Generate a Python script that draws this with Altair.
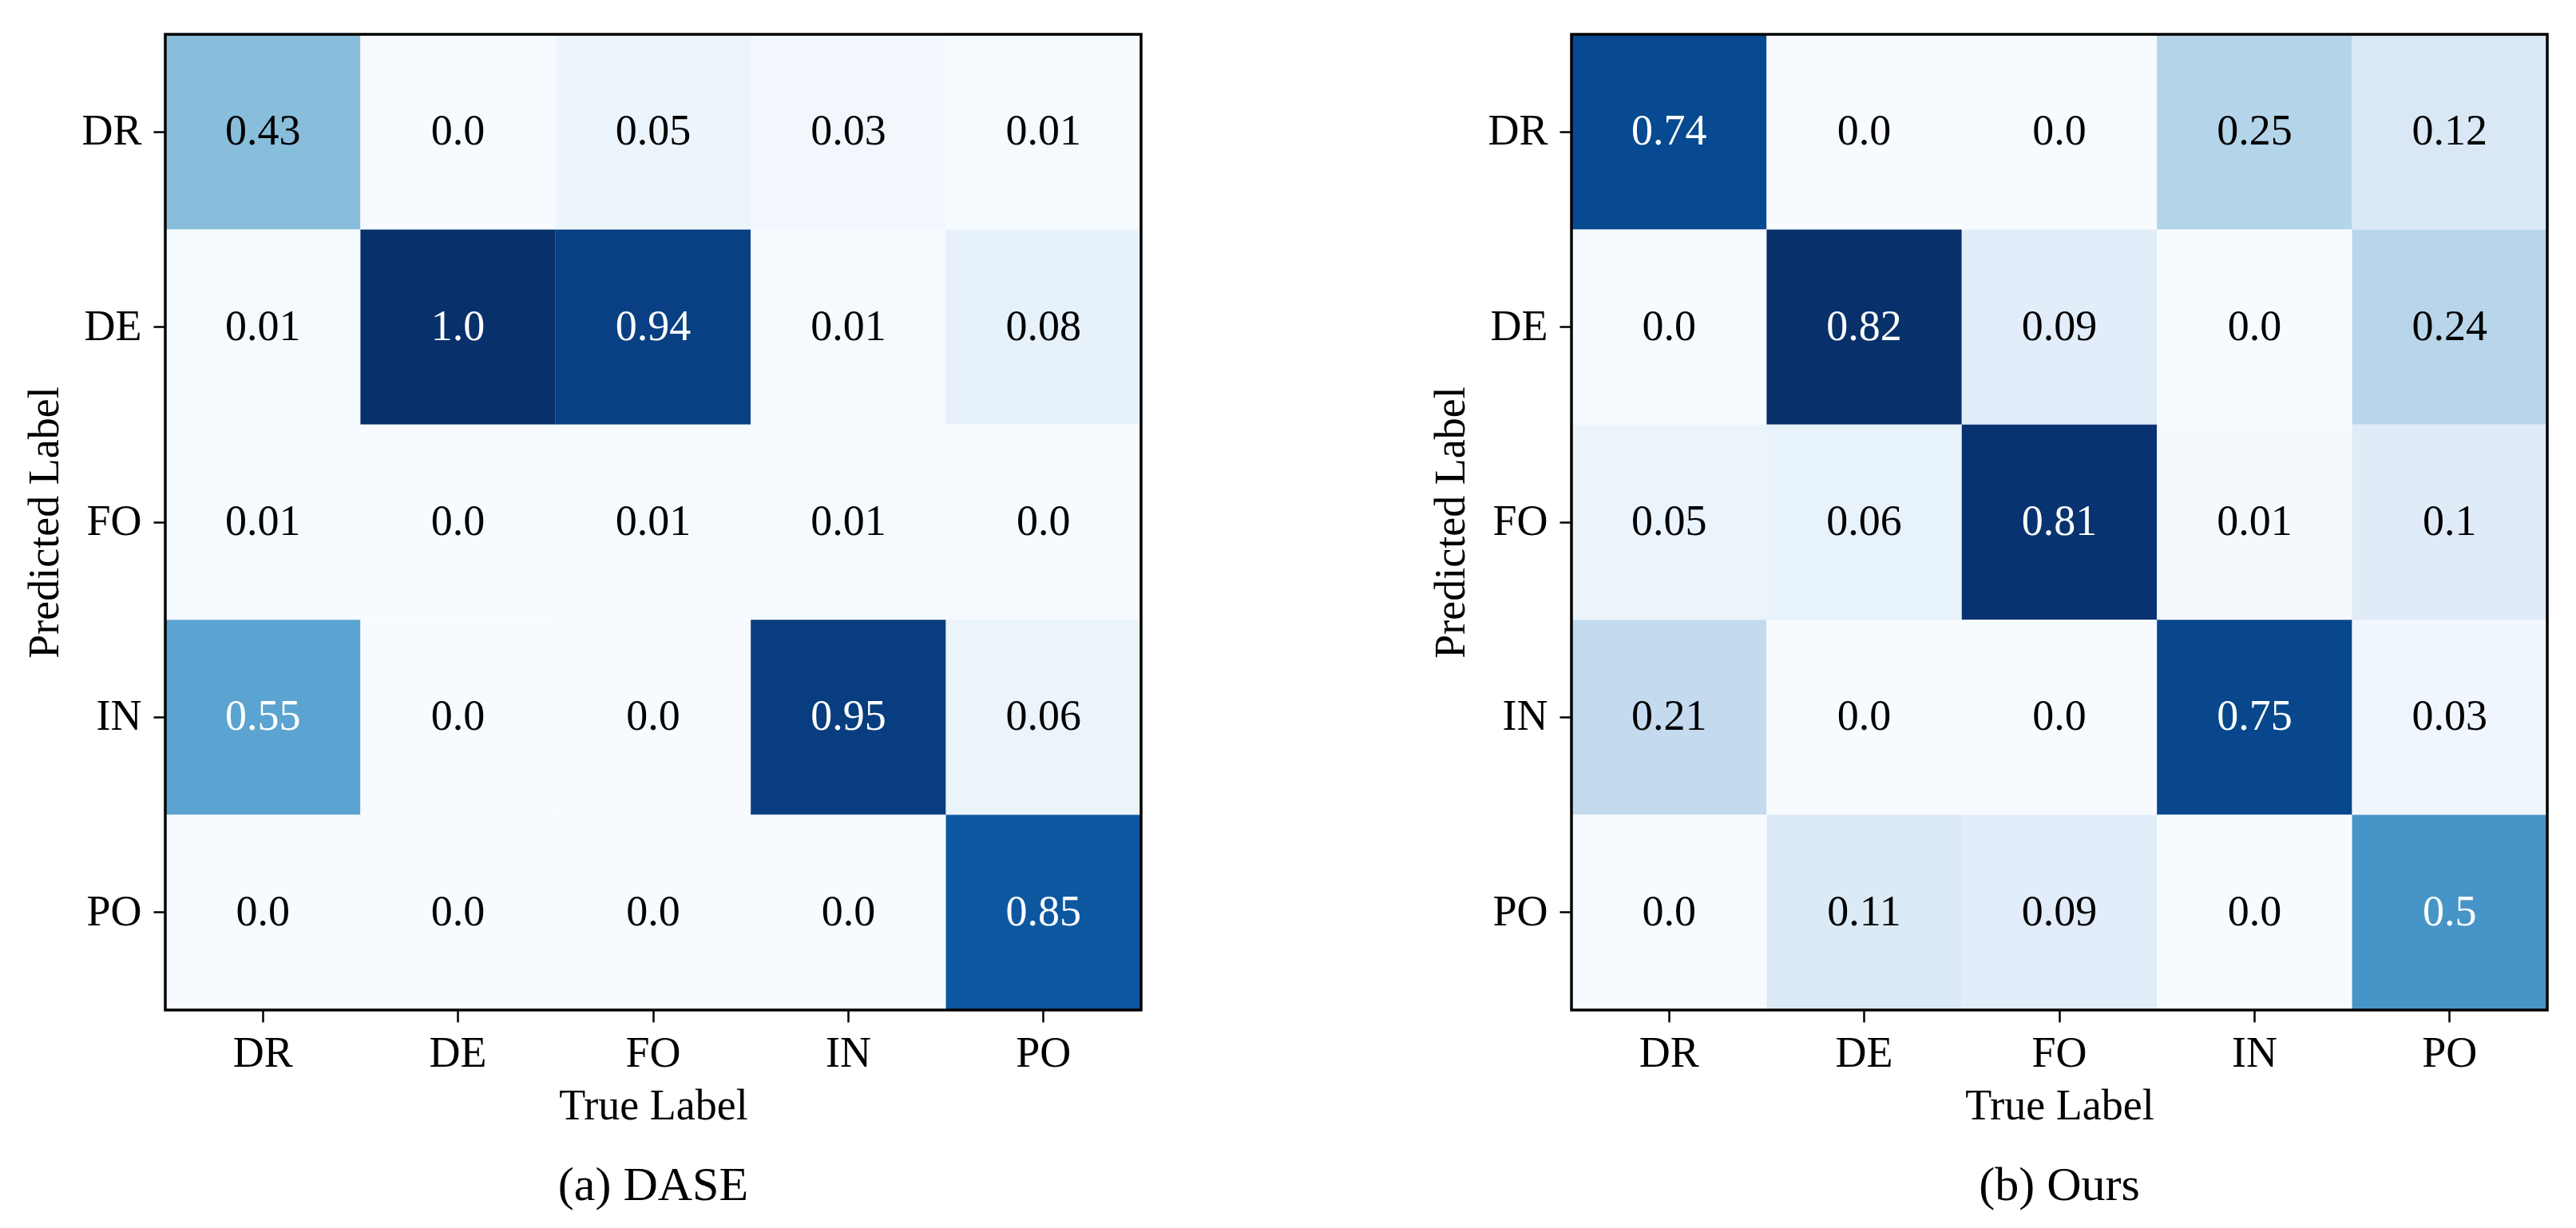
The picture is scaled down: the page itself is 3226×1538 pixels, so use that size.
import altair as alt
import pandas as pd

labels = ["DR", "DE", "FO", "IN", "PO"]

# rows = predicted label, columns = true label
dase = [
    [0.43, 0.0, 0.05, 0.03, 0.01],
    [0.01, 1.0, 0.94, 0.01, 0.08],
    [0.01, 0.0, 0.01, 0.01, 0.0],
    [0.55, 0.0, 0.0, 0.95, 0.06],
    [0.0, 0.0, 0.0, 0.0, 0.85],
]
ours = [
    [0.74, 0.0, 0.0, 0.25, 0.12],
    [0.0, 0.82, 0.09, 0.0, 0.24],
    [0.05, 0.06, 0.81, 0.01, 0.1],
    [0.21, 0.0, 0.0, 0.75, 0.03],
    [0.0, 0.11, 0.09, 0.0, 0.5],
]

blues = ["#f7fbff", "#deebf7", "#c6dbef", "#9ecae1", "#6baed6",
         "#4292c6", "#2171b5", "#08519c", "#08306b"]

FONT = "Liberation Serif"
W = 1222
H = 1222


def to_df(m):
    rows = []
    for i, p in enumerate(labels):
        for j, t in enumerate(labels):
            v = m[i][j]
            rows.append({"pred": p, "true": t, "value": v, "label": str(v)})
    return pd.DataFrame(rows)


def panel(m, caption):
    df = to_df(m)
    vmax = max(max(r) for r in m)
    dom = [vmax * k / 8 for k in range(9)]
    base = alt.Chart(df).encode(
        x=alt.X("true:N", sort=labels, title="True Label",
                scale=alt.Scale(paddingInner=0, paddingOuter=0),
                axis=alt.Axis(labelAngle=0, labelPadding=12, titlePadding=12)),
        y=alt.Y("pred:N", sort=labels, title="Predicted Label",
                scale=alt.Scale(paddingInner=0, paddingOuter=0),
                axis=alt.Axis(labelPadding=15, titlePadding=18)),
    )
    rect = base.mark_rect().encode(
        color=alt.Color("value:Q", legend=None,
                        scale=alt.Scale(domain=dom, range=blues, interpolate="rgb"))
    )
    text = base.mark_text(font=FONT, fontSize=54).encode(
        text="label:N",
        color=alt.condition(f"datum.value > {vmax / 2}", alt.value("white"), alt.value("black")),
    )
    frame = alt.Chart(pd.DataFrame({"f": [0]})).mark_rect(
        filled=False, stroke="black", strokeWidth=3.5
    ).encode(x=alt.value(0), x2=alt.value(W), y=alt.value(0), y2=alt.value(H))
    return (rect + text + frame).properties(
        width=W, height=H,
        title=alt.TitleParams(caption, orient="bottom", anchor="middle", frame="group",
                              font=FONT, fontSize=60, fontWeight="normal",
                              color="black", offset=44),
    ).resolve_scale(color="independent")


chart = alt.hconcat(panel(dase, "(a) DASE"), panel(ours, "(b) Ours"), spacing=359).resolve_scale(
    color="independent"
).properties(
    padding={"left": 21, "top": 33, "right": 5, "bottom": 5}
).configure_view(
    stroke=None
).configure_axis(
    labelFont=FONT, labelFontSize=54, labelColor="black",
    titleFont=FONT, titleFontSize=54, titleFontWeight="normal", titleColor="black",
    tickColor="black", tickSize=15, tickWidth=2.5, domain=False, grid=False,
)

chart.save("out.html", embed_options={"renderer": "svg", "actions": False})
